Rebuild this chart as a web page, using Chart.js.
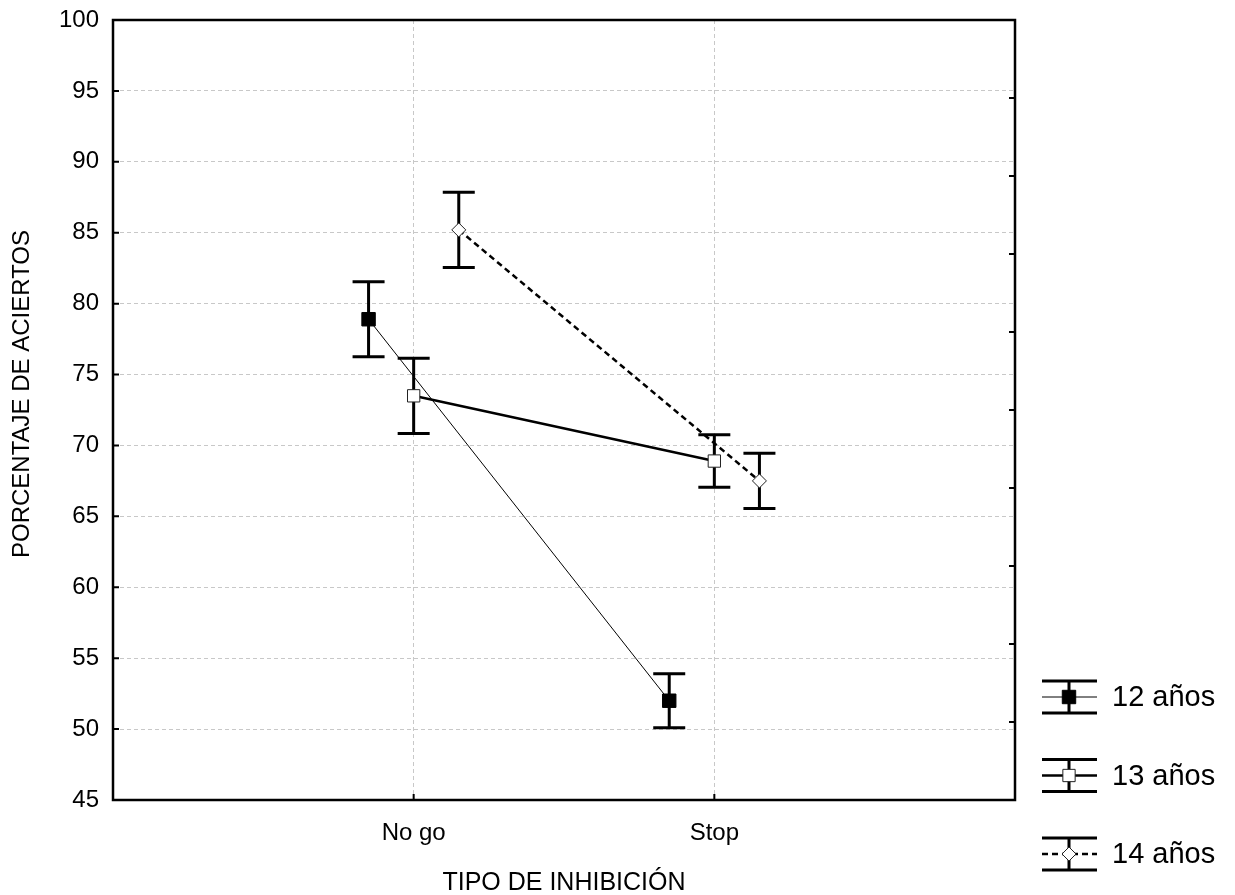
<!DOCTYPE html>
<html>
<head>
<meta charset="utf-8">
<script src="https://cdn.jsdelivr.net/npm/chart.js@4.4.1/dist/chart.umd.min.js"></script>
<style>
  html, body { margin: 0; background: #fff; }
</style>
</head>
<body>
<canvas id="chart" width="1235" height="895"></canvas>
<script>
// data
const categories = ['No go', 'Stop'];
const groups = ['12 años', '13 años', '14 años'];
const means12 = [78.9, 52.0];
const errs12 = [2.65, 1.9];
const means13 = [73.5, 68.9];
const errs13 = [2.65, 1.85];
const means14 = [85.2, 67.5];
const errs14 = [2.65, 1.95];
const offsets = [-0.15, 0, 0.15];   // horizontal dodge of each group
const yTitle = 'PORCENTAJE DE ACIERTOS';
const xTitle = 'TIPO DE INHIBICIÓN';

const FONT = "'Liberation Sans', Arial, sans-serif";

function pts(means, k) {
  return means.map((m, i) => ({ x: i + 1 + offsets[k], y: m }));
}

const datasets = [
  { label: groups[0], data: pts(means12, 0), errors: errs12,
    borderColor: '#000', borderWidth: 1, pointStyle: 'rect', pointRadius: 9.5,
    pointBackgroundColor: '#000', pointBorderColor: '#000', pointBorderWidth: 1 },
  { label: groups[1], data: pts(means13, 1), errors: errs13,
    borderColor: '#000', borderWidth: 2.5, pointStyle: 'rect', pointRadius: 8.7,
    pointBackgroundColor: '#fff', pointBorderColor: '#222', pointBorderWidth: 1 },
  { label: groups[2], data: pts(means14, 2), errors: errs14,
    borderColor: '#000', borderWidth: 2.5, borderDash: [6, 4], pointStyle: 'rectRot', pointRadius: 7,
    pointBackgroundColor: '#fff', pointBorderColor: '#222', pointBorderWidth: 1 }
];

function drawMarker(ctx, ds, x, y) {
  const r = ds.pointRadius;
  ctx.save();
  ctx.setLineDash([]);
  ctx.lineWidth = ds.pointBorderWidth;
  ctx.fillStyle = ds.pointBackgroundColor;
  ctx.strokeStyle = ds.pointBorderColor;
  ctx.beginPath();
  if (ds.pointStyle === 'rectRot') {
    ctx.moveTo(x, y - r); ctx.lineTo(x + r, y); ctx.lineTo(x, y + r); ctx.lineTo(x - r, y);
    ctx.closePath();
  } else {
    const s = Math.SQRT1_2 * r;
    ctx.rect(x - s, y - s, 2 * s, 2 * s);
  }
  ctx.fill(); ctx.stroke();
  ctx.restore();
}

const extras = {
  id: 'extras',
  beforeDatasetsDraw(chart) {
    const ctx = chart.ctx, ys = chart.scales.y;
    ctx.save();
    ctx.strokeStyle = '#000';
    ctx.lineWidth = 3;
    chart.data.datasets.forEach((ds, d) => {
      chart.getDatasetMeta(d).data.forEach((el, i) => {
        const top = ys.getPixelForValue(ds.data[i].y + ds.errors[i]);
        const bot = ys.getPixelForValue(ds.data[i].y - ds.errors[i]);
        ctx.beginPath();
        ctx.moveTo(el.x, top); ctx.lineTo(el.x, bot);
        ctx.moveTo(el.x - 16, top); ctx.lineTo(el.x + 16, top);
        ctx.moveTo(el.x - 16, bot); ctx.lineTo(el.x + 16, bot);
        ctx.stroke();
      });
    });
    ctx.restore();
  },
  afterDraw(chart) {
    const ctx = chart.ctx, a = chart.chartArea;
    const xs = chart.scales.x, ys = chart.scales.y;
    ctx.save();
    // frame
    ctx.strokeStyle = '#000';
    ctx.lineWidth = 2.5;
    ctx.strokeRect(a.left, a.top, a.right - a.left, a.bottom - a.top);
    // inward ticks
    ctx.lineWidth = 2;
    ctx.beginPath();
    ys.ticks.forEach(t => {
      const y = ys.getPixelForValue(t.value);
      ctx.moveTo(a.left, y); ctx.lineTo(a.left + 6, y);
    });
    for (let k = 1; k < 10; k++) {
      const y = a.top + (a.bottom - a.top) * k / 10;
      ctx.moveTo(a.right, y); ctx.lineTo(a.right - 6, y);
    }
    xs.ticks.forEach(t => {
      const x = xs.getPixelForValue(t.value);
      ctx.moveTo(x, a.bottom); ctx.lineTo(x, a.bottom - 6);
    });
    ctx.stroke();

    // y title
    ctx.save();
    ctx.translate(22, 394);
    ctx.rotate(-Math.PI / 2);
    ctx.fillStyle = '#000';
    ctx.font = '24px ' + FONT;
    ctx.textAlign = 'center';
    ctx.textBaseline = 'middle';
    ctx.fillText(yTitle, 0, 0);
    ctx.restore();

    // legend
    const lx0 = 1042, lx1 = 1097, lcx = 1069;
    chart.data.datasets.forEach((ds, i) => {
      const cy = 697 + i * 78.5;
      ctx.save();
      ctx.strokeStyle = '#000';
      ctx.lineWidth = ds.borderWidth;
      ctx.setLineDash(ds.borderDash || []);
      ctx.beginPath();
      ctx.moveTo(lx0, cy); ctx.lineTo(lx1, cy);
      ctx.stroke();
      ctx.setLineDash([]);
      ctx.lineWidth = 3;
      ctx.beginPath();
      ctx.moveTo(lx0, cy - 16); ctx.lineTo(lx1, cy - 16);
      ctx.moveTo(lx0, cy + 16); ctx.lineTo(lx1, cy + 16);
      ctx.moveTo(lcx, cy - 16); ctx.lineTo(lcx, cy + 16);
      ctx.stroke();
      ctx.restore();
      drawMarker(ctx, ds, lcx, cy);
      ctx.fillStyle = '#000';
      ctx.font = '29px ' + FONT;
      ctx.textBaseline = 'middle';
      ctx.textAlign = 'left';
      ctx.fillText(ds.label, 1112, cy + 1);
    });
    ctx.restore();
  }
};

new Chart(document.getElementById('chart'), {
  type: 'line',
  data: { datasets },
  plugins: [extras],
  options: {
    responsive: false,
    animation: false,
    devicePixelRatio: 1,
    layout: { padding: { top: 20, right: 220, left: 0, bottom: 0 } },
    plugins: { legend: { display: false }, tooltip: { enabled: false } },
    scales: {
      x: {
        type: 'linear', min: 0, max: 3,
        afterBuildTicks: s => { s.ticks = categories.map((c, i) => ({ value: i + 1 })); },
        afterFit: s => { s.height = 95; s.paddingLeft = 0; s.paddingRight = 0; },
        ticks: {
          callback: v => categories[v - 1],
          color: '#000', font: { family: FONT, size: 24 }, padding: 19, maxRotation: 0
        },
        grid: { drawTicks: false, color: '#c8c8c8', lineWidth: 1 },
        border: { display: false, dash: [4, 3] },
        title: { display: true, text: xTitle, color: '#000',
                 font: { family: FONT, size: 25 }, padding: { top: 0, bottom: -3 } }
      },
      y: {
        min: 45, max: 100,
        afterFit: s => { s.width = 113; s.paddingTop = 0; s.paddingBottom = 0; },
        ticks: { stepSize: 5, color: '#000', font: { family: FONT, size: 24 }, padding: 14 },
        grid: { drawTicks: false, color: '#c8c8c8', lineWidth: 1 },
        border: { display: false, dash: [4, 3] }
      }
    }
  }
});
</script>
</body>
</html>
